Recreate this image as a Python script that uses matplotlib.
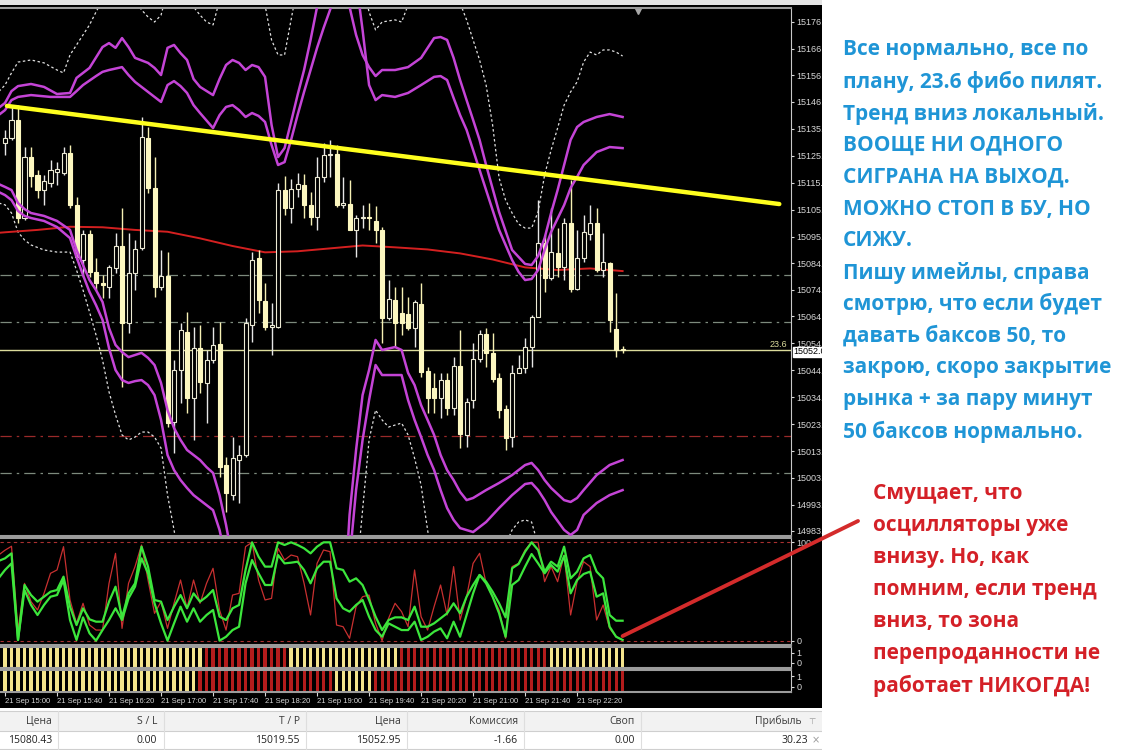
import numpy as np
import matplotlib.pyplot as plt
from matplotlib.patches import Rectangle
from matplotlib.lines import Line2D

# ---------------- data ----------------
# 5-minute candles, index 0 = 21 Sep 15:00
opens = [15130.5, 15132.2, 15139.1, 15101.9, 15125.2, 15118.3, 15112.6, 15115.1, 15119.6, 15119.2,
         15126.5, 15106.9, 15086.1, 15095.9, 15081.7, 15077.2, 15076.0, 15082.9, 15091.5, 15062.1,
         15081.0, 15090.5, 15132.2, 15113.2, 15076.0, 15080.2, 15024.8, 15044.4, 15058.9, 15033.7,
         15052.6, 15039.4, 15048.2, 15054.3, 15008.4, 14997.0, 15010.3, 15012.2, 15061.5, 15086.7,
         15070.7, 15060.8, 15060.8, 15112.6, 15105.7, 15113.1, 15114.5, 15106.9, 15102.5, 15117.4,
         15125.9, 15126.2, 15106.9, 15107.3, 15097.5, 15101.9, 15102.5, 15101.0, 15097.5, 15064.0,
         15070.9, 15065.9, 15065.6, 15060.2, 15069.3, 15044.0, 15037.5, 15033.7, 15040.6, 15029.9,
         15045.9, 15019.8, 15033.0, 15048.5, 15058.1, 15050.7, 15041.2, 15029.5, 15019.2, 15043.4,
         15045.0, 15053.2, 15064.6, 15092.4, 15079.1, 15088.9, 15083.6, 15100.0, 15075.0, 15086.7,
         15095.9, 15100.0, 15082.3, 15085.1, 15059.8, 15052.5]
highs = [15135.3, 15144.8, 15144.8, 15129.0, 15129.0, 15120.2, 15118.3, 15124.0, 15123.3, 15129.0,
         15129.7, 15110.1, 15097.5, 15097.5, 15086.7, 15080.4, 15084.2, 15096.2, 15105.7, 15096.2,
         15093.7, 15140.4, 15136.6, 15125.2, 15089.9, 15089.2, 15048.2, 15062.1, 15066.5, 15060.8,
         15061.5, 15052.0, 15060.8, 15062.7, 15011.6, 15019.2, 15016.0, 15064.0, 15089.2, 15089.9,
         15077.2, 15069.7, 15115.1, 15117.9, 15116.7, 15118.9, 15118.7, 15112.0, 15125.2, 15130.3,
         15131.6, 15129.7, 15117.7, 15116.4, 15103.1, 15106.9, 15107.6, 15106.5, 15098.7, 15078.5,
         15076.0, 15076.0, 15072.2, 15070.9, 15077.5, 15045.7, 15043.1, 15043.1, 15043.1, 15049.5,
         15059.6, 15033.7, 15054.5, 15059.6, 15060.2, 15058.3, 15043.1, 15031.1, 15046.3, 15050.1,
         15056.4, 15065.2, 15108.8, 15095.6, 15105.7, 15098.1, 15101.9, 15116.4, 15097.5, 15103.1,
         15106.9, 15105.7, 15096.4, 15085.5, 15073.5, 15053.5]
lows = [15125.9, 15131.6, 15100.0, 15101.2, 15113.9, 15109.5, 15106.9, 15113.9, 15114.5, 15118.3,
        15105.7, 15086.1, 15079.8, 15079.8, 15074.7, 15071.6, 15071.6, 15081.0, 15038.1, 15058.3,
        15074.7, 15089.9, 15111.3, 15072.2, 15074.7, 15022.9, 15012.8, 15031.8, 15028.0, 15017.9,
        15035.6, 15024.2, 15046.9, 15004.0, 14990.7, 14995.1, 14993.9, 15011.6, 15055.1, 15065.9,
        15059.6, 15050.1, 15060.2, 15103.1, 15100.0, 15110.1, 15101.9, 15099.3, 15097.5, 15115.8,
        15117.7, 15106.3, 15105.7, 15097.5, 15087.4, 15098.1, 15097.5, 15092.4, 15054.5, 15063.4,
        15053.2, 15057.7, 15059.6, 15053.2, 15041.9, 15028.0, 15028.0, 15026.1, 15027.4, 15027.4,
        15014.7, 15015.4, 15029.9, 15047.6, 15045.7, 15040.0, 15026.1, 15014.1, 15015.4, 15043.1,
        15043.1, 15045.7, 15064.6, 15074.1, 15078.5, 15079.8, 15078.5, 15074.1, 15074.7, 15085.5,
        15093.7, 15081.7, 15079.8, 15058.9, 15049.5, 15050.7]
closes = [15132.2, 15139.1, 15101.9, 15125.2, 15117.9, 15112.6, 15116.1, 15120.2, 15120.4, 15126.8,
          15106.9, 15087.4, 15095.9, 15081.7, 15077.2, 15076.6, 15083.3, 15091.5, 15062.1, 15081.0,
          15090.1, 15132.8, 15113.2, 15076.0, 15080.2, 15024.2, 15044.4, 15059.6, 15033.7, 15052.6,
          15040.0, 15048.2, 15053.9, 15007.8, 14997.7, 15010.9, 15012.2, 15062.1, 15086.1, 15070.9,
          15060.8, 15061.5, 15112.6, 15105.7, 15112.9, 15114.9, 15106.9, 15102.5, 15117.4, 15125.9,
          15126.1, 15106.9, 15107.6, 15097.5, 15101.9, 15102.5, 15102.0, 15097.5, 15064.0, 15071.2,
          15062.1, 15062.1, 15060.2, 15070.3, 15043.8, 15033.7, 15033.7, 15040.6, 15029.9, 15045.9,
          15020.2, 15032.4, 15048.5, 15058.1, 15050.7, 15040.9, 15029.3, 15018.5, 15043.4, 15045.0,
          15053.2, 15064.6, 15092.4, 15079.1, 15089.2, 15083.6, 15100.0, 15075.0, 15086.7, 15096.8,
          15100.2, 15082.3, 15085.5, 15063.4, 15052.0, 15052.0]

# red moving average
ma_idx = [-1, 0, 5, 10, 15, 20, 25, 30, 35, 40, 45, 50, 55, 60, 65, 70, 75, 80, 85, 90, 95]
ma_val = [15096.4, 15096.6, 15097.5, 15098.7, 15098.5, 15097.5, 15096.8, 15094.3, 15091.4, 15089.0,
          15089.4, 15090.5, 15091.6, 15090.9, 15090.1, 15088.6, 15086.3, 15083.3, 15082.3, 15082.9, 15081.9]

# magenta channel lines (upper pair, lower pair)
ua_idx = [-1, 0, 1, 2, 4, 6, 8, 10, 11, 13, 15, 16, 17, 18, 19, 20, 22, 23, 24, 25, 26, 27, 28, 29, 30,
          32, 33, 34, 35, 36, 37, 38, 39, 40, 41, 42, 43, 44, 45, 46, 47, 48, 49, 51, 52, 53, 54, 55, 56,
          57, 58, 60, 62, 64, 66, 67, 68, 69, 70, 71, 72, 73, 74, 76, 78, 80, 81, 82, 83, 84, 85, 86, 87,
          88, 89, 91, 93, 95]
ua_val = [15143.7, 15145.6, 15150.1, 15152.0, 15152.8, 15151.7, 15149.0, 15149.4, 15155.1, 15158.9,
          15166.8, 15168.3, 15166.5, 15170.2, 15166.8, 15162.7, 15160.8, 15158.9, 15156.2, 15166.5,
          15167.6, 15164.5, 15161.9, 15154.7, 15151.7, 15148.6, 15154.7, 15160.0, 15161.9, 15160.8,
          15158.1, 15160.0, 15159.2, 15155.5, 15137.3, 15125.1, 15128.5, 15138.4, 15148.6, 15158.1,
          15169.5, 15182.0, 15196.0, 15207.4, 15200.0, 15182.0, 15171.4, 15163.8, 15159.2, 15155.8,
          15158.1, 15158.1, 15159.2, 15162.7, 15170.2, 15170.6, 15169.5, 15162.7, 15154.3, 15146.7,
          15139.2, 15131.6, 15122.1, 15104.3, 15089.9, 15084.6, 15084.2, 15087.6, 15094.4, 15103.9,
          15112.6, 15122.1, 15131.6, 15136.5, 15138.4, 15140.3, 15141.4, 15140.3]
ub_idx = [-1, 0, 1, 2, 4, 7, 10, 11, 12, 14, 15, 16, 18, 19, 20, 22, 24, 25, 26, 27, 28, 29, 30, 32, 33,
          34, 35, 36, 37, 38, 39, 40, 41, 42, 43, 44, 45, 46, 47, 48, 49, 50, 51, 53, 54, 55, 56, 57, 58,
          60, 62, 64, 66, 67, 68, 69, 70, 71, 72, 74, 76, 78, 79, 80, 81, 82, 83, 84, 86, 87, 88, 89, 91,
          93, 95]
ub_val = [15141.0, 15142.9, 15146.7, 15147.9, 15148.6, 15147.9, 15147.9, 15150.1, 15152.4, 15155.8,
          15157.4, 15158.1, 15159.2, 15156.2, 15153.6, 15149.8, 15146.0, 15152.4, 15153.9, 15152.0,
          15149.4, 15144.8, 15141.8, 15136.1, 15141.0, 15144.1, 15144.8, 15142.9, 15140.3, 15141.8,
          15140.7, 15138.4, 15129.7, 15122.1, 15123.2, 15131.6, 15141.0, 15149.8, 15158.1, 15166.5,
          15174.0, 15180.9, 15188.4, 15205.0, 15192.2, 15173.3, 15152.4, 15146.7, 15148.6, 15147.9,
          15149.4, 15152.4, 15155.5, 15155.8, 15154.3, 15147.5, 15141.0, 15135.4, 15127.8, 15112.6,
          15097.5, 15086.1, 15081.6, 15078.5, 15078.9, 15082.3, 15089.9, 15096.7, 15106.9, 15113.4,
          15117.6, 15122.1, 15127.0, 15128.9, 15128.5]
la_idx = [-1, 0, 1, 2, 3, 4, 6, 8, 10, 11, 12, 13, 14, 15, 16, 17, 18, 19, 20, 21, 22, 23, 24, 25, 26,
          27, 28, 29, 30, 31, 32, 33, 34, 35, 36, 44, 52, 53, 54, 55, 56, 57, 58, 60, 61, 62, 63, 64, 65,
          66, 67, 68, 69, 70, 71, 72, 74, 76, 78, 80, 81, 82, 83, 84, 86, 87, 88, 89, 91, 93, 95]
la_val = [15114.9, 15113.8, 15112.6, 15107.7, 15105.4, 15103.9, 15102.8, 15100.9, 15097.5, 15089.9,
          15084.2, 15078.5, 15074.7, 15070.2, 15060.3, 15053.9, 15051.2, 15049.3, 15050.1, 15050.9,
          15049.0, 15046.3, 15039.5, 15029.2, 15022.4, 15017.9, 15014.1, 15012.2, 15010.3, 15007.6,
          15005.4, 14997.0, 14985.7, 14972.4, 14957.2, 14930.0, 14949.7, 14989.5, 15014.1, 15034.9,
          15044.4, 15055.8, 15052.0, 15053.1, 15052.0, 15043.3, 15038.7, 15031.1, 15025.5, 15019.8,
          15012.2, 15006.5, 15002.7, 14998.2, 14995.1, 14995.9, 14998.9, 15001.6, 15004.6, 15008.4,
          15009.2, 15006.5, 15002.7, 14999.7, 14995.1, 14994.4, 14995.9, 14998.9, 15004.6, 15008.4,
          15010.3]
lb_idx = [-1, 0, 1, 2, 3, 4, 6, 8, 10, 11, 12, 13, 14, 15, 16, 17, 18, 19, 20, 21, 22, 23, 24, 25, 26,
          27, 28, 29, 30, 31, 32, 33, 34, 35, 44, 52, 53, 54, 55, 56, 57, 58, 60, 61, 62, 63, 64, 65, 66,
          67, 68, 69, 70, 72, 74, 76, 78, 80, 81, 82, 83, 84, 86, 87, 88, 89, 91, 93, 95]
lb_val = [15111.9, 15110.7, 15108.8, 15104.7, 15102.8, 15102.0, 15100.9, 15098.6, 15094.4, 15087.2,
          15080.4, 15074.0, 15069.0, 15063.4, 15052.7, 15044.4, 15040.6, 15039.5, 15040.2, 15040.6,
          15038.7, 15034.9, 15025.5, 15012.2, 15006.5, 15002.7, 14999.7, 14997.0, 14995.1, 14993.2,
          14991.3, 14983.8, 14972.4, 14957.2, 14925.0, 14938.3, 14972.4, 14998.9, 15017.9, 15033.0,
          15046.3, 15042.5, 15042.5, 15042.5, 15033.0, 15025.5, 15019.0, 15012.2, 15006.5, 14998.9,
          14992.1, 14987.6, 14984.5, 14983.0, 14986.8, 14992.1, 14997.0, 15001.2, 15001.6, 14998.9,
          14995.1, 14990.6, 14983.8, 14981.9, 14983.8, 14989.5, 14994.0, 14997.0, 14998.9]

# white dotted outer envelope
du_idx = [-1, 0, 1, 2, 4, 6, 8, 9, 10, 11, 12, 13, 14, 15, 16, 19, 20, 21, 22, 23, 24, 25, 28, 29, 30,
          31, 32, 33, 34, 39, 40, 41, 42, 43, 44, 45, 55, 56, 57, 58, 60, 61, 62, 63, 69, 70, 71, 72, 73,
          74, 75, 76, 77, 78, 79, 80, 81, 82, 83, 84, 85, 86, 87, 88, 89, 90, 91, 92, 93, 94, 95]
du_val = [15149.8, 15152.4, 15157.0, 15161.1, 15161.9, 15160.8, 15158.1, 15157.0, 15163.8, 15167.6,
          15171.4, 15175.2, 15180.1, 15184.6, 15190.3, 15190.3, 15184.6, 15180.9, 15178.2, 15176.3,
          15178.9, 15188.4, 15188.4, 15182.0, 15178.9, 15176.3, 15175.2, 15184.6, 15190.3, 15190.3,
          15182.7, 15169.5, 15163.8, 15163.8, 15177.1, 15190.3, 15190.3, 15180.1, 15173.3, 15176.3,
          15177.1, 15176.3, 15182.7, 15190.3, 15190.3, 15183.5, 15177.1, 15169.5, 15161.9, 15152.4,
          15137.3, 15117.2, 15108.8, 15103.9, 15099.7, 15098.2, 15098.2, 15104.3, 15118.3, 15127.8,
          15136.1, 15144.8, 15149.8, 15153.6, 15161.1, 15164.9, 15163.8, 15165.7, 15165.7, 15164.9,
          15163.4]
dl_idx = [-1, 0, 1, 2, 3, 4, 6, 8, 10, 11, 12, 13, 14, 15, 16, 17, 18, 19, 20, 21, 22, 23, 24, 25, 26,
          27, 28, 54, 55, 56, 57, 58, 59, 61, 62, 63, 64, 65, 66, 67, 76, 77, 78, 79, 80, 81, 82, 83, 84, 95]
dl_val = [15107.7, 15107.0, 15103.9, 15096.7, 15093.7, 15091.8, 15089.9, 15089.1, 15089.1, 15082.3,
          15074.7, 15066.4, 15057.7, 15048.2, 15036.1, 15027.4, 15019.8, 15017.9, 15019.0, 15020.9,
          15020.9, 15019.0, 15014.8, 14997.0, 14983.8, 14968.6, 14955.0, 14964.8, 14991.3, 15017.9,
          15029.2, 15025.5, 15022.8, 15024.3, 15019.8, 15011.0, 15000.8, 14983.8, 14968.6, 14960.0,
          14960.0, 14978.1, 14983.8, 14986.8, 14987.6, 14986.8, 14978.1, 14968.6, 14960.0, 14940.0]

# drawn trend line (candle index, price)
trend_x = [0.3, 119.1]
trend_y = [15144.5, 15107.3]

fib_236 = 15052.0
order_open = 15080.43
take_profit = 15019.55
grey_levels = [15062.6, 15005.4]
last_price = 15052.0

price_ticks = [15176.3, 15166.1, 15156.2, 15146.0, 15135.8, 15125.6, 15115.4, 15105.2, 15095.0, 15084.8,
               15074.9, 15064.7, 15054.5, 15044.3, 15034.1, 15023.9, 15013.7, 15003.5, 14993.3, 14983.4]
time_pos = [0, 8, 16, 24, 32, 40, 48, 56, 64, 72, 80, 88]
time_labels = ['21 Sep 15:00', '21 Sep 15:40', '21 Sep 16:20', '21 Sep 17:00', '21 Sep 17:40',
               '21 Sep 18:20', '21 Sep 19:00', '21 Sep 19:40', '21 Sep 20:20', '21 Sep 21:00',
               '21 Sep 21:40', '21 Sep 22:20']

# oscillator window, index -1 .. 95
osc_main = [81, 83.7, 88.8, 0.7, 56.6, 46.4, 39.7, 44.7, 49.8, 51.5, 65.1,
            34.6, 15.9, 32.9, 21.7, 19.3, 19.3, 39.7, 54.9, 23.7, 48.1,
            58.3, 95.6, 75.3, 41.4, 39.7, 21, 34.6, 46.4, 32.9, 48.1,
            39.7, 44.7, 51.5, 24.4, 21, 32.9, 36.3, 71.9, 100, 85.4,
            75.3, 75.3, 100, 97.3, 100, 97.3, 93.9, 88.8, 95.6, 100,
            100, 73.6, 71.9, 60, 63.4, 56.6, 41.4, 24.4, 10.8, 21,
            23.7, 23.7, 21, 34.6, 14.2, 14.2, 17.6, 22.7, 27.8, 38,
            27.8, 44.7, 56.6, 66.8, 60, 49.8, 38, 23.7, 73.6, 78,
            90.5, 100, 92.2, 70.2, 80.3, 75.3, 95.6, 63.4, 70.2, 83.7,
            87.1, 70.2, 63.4, 26.1, 20.3, 20.3]
osc_signal = [63.4, 71.9, 78.6, 0.7, 51.5, 36.3, 26.1, 36.3, 44.7, 46.4, 61.7,
              21, 0.7, 23.7, 7.5, 0, 10.8, 21, 32.9, 21, 43,
              54.9, 83.7, 68.5, 38, 17.6, 0, 17.6, 34.6, 19.3, 32.9,
              19.3, 26.1, 31.2, 0, 4, 10.8, 14.2, 58.3, 82, 68.5,
              56.6, 56.6, 87.1, 78.6, 79.3, 80.3, 71.9, 58.3, 73.6, 80.3,
              80.3, 43, 32.9, 29.5, 36.3, 41.4, 24.4, 10.8, 4, 17.6,
              14.2, 10.8, 10.8, 19.3, 0.7, 4, 9.2, 12.5, 2.4, 19.3,
              4, 26.1, 48.1, 66.8, 58.3, 44.7, 27.8, 4, 56.6, 61.7,
              75.3, 88.1, 78.6, 68.5, 77, 70.2, 86.1, 48.1, 61.7, 67.8,
              70.2, 44.7, 48.1, 14.2, 4, 0.7]
osc_fast = [87, 92, 96, 10.8, 58.3, 39.7, 31.2, 48.1, 68.5, 71.9, 95.6,
            41.4, 17.6, 38, 15.9, 10.8, 10.8, 58.3, 88.8, 12.5, 58.3,
            75.3, 97.3, 61.7, 27.8, 39.7, 12.5, 38, 61.7, 32.9, 61.7,
            38, 58.3, 73.6, 31.2, 10.8, 46.4, 48.1, 95.6, 100, 61.7,
            41.4, 43, 93.9, 82, 87.1, 85.4, 58.3, 26.1, 78.6, 92.2,
            90.5, 15.9, 14.2, 2.4, 34.6, 44.7, 46.4, 17.6, 0, 22.7,
            38, 29.5, 14.2, 71.9, 24.4, 10.8, 34.6, 56.6, 26.1, 75.3,
            21, 44.7, 78.6, 88.8, 58.3, 44.7, 31.2, 2.4, 75.3, 78.6,
            92.2, 100, 100, 60, 75.3, 60, 87.1, 26.1, 60, 80.3,
            75.3, 21, 36.3, 12.5, 4, 0.7]

# signal strips: candle index where a colour run starts
strip1_start = [0, 31, 44, 61, 84]
strip1_state = [1, 0, 1, 0, 1]
strip2_start = [0, 30, 51, 57]
strip2_state = [1, 0, 1, 0]

blue_lines = ['Все нормально, все по', 'плану, 23.6 фибо пилят.', 'Тренд вниз локальный.',
              'ВООЩЕ НИ ОДНОГО', 'СИГРАНА НА ВЫХОД.', 'МОЖНО СТОП В БУ, НО', 'СИЖУ.',
              'Пишу имейлы, справа', 'смотрю, что если будет', 'давать баксов 50, то',
              'закрою, скоро закрытие', 'рынка + за пару минут', '50 баксов нормально.']
red_lines = ['Смущает, что', 'осцилляторы уже', 'внизу. Но, как', 'помним, если тренд',
             'вниз, то зона', 'перепроданности не', 'работает НИКОГДА!']

col_headers = ['Цена', 'S / L', 'T / P', 'Цена', 'Комиссия', 'Своп', 'Прибыль']
row_values = ['15080.43', '0.00', '15019.55', '15052.95', '-1.66', '0.00', '30.23']

# ---------------- layout ----------------
W, H = 1123, 750
fig = plt.figure(figsize=(W / 100, H / 100), dpi=100)
fig.patch.set_facecolor('white')


def box(x0, y0, x1, y1):
    return [x0 / W, 1 - y1 / H, (x1 - x0) / W, (y1 - y0) / H]


def fy(y):
    return 1 - y / H


TERM_R = 822      # right edge of the terminal screenshot
PLOT_R = 791      # right edge of the plotting area
XLIM = (-0.77, 120.9)
AXIS_TXT = '#d8d8d8'
FRAME = '#9c9c9c'
MONO = 'Liberation Sans'

fig.add_artist(Rectangle((0, fy(708)), TERM_R / W, (708 - 5) / H, transform=fig.transFigure,
                         facecolor='black', edgecolor='none', zorder=-5))
fig.add_artist(Rectangle((0, fy(5)), TERM_R / W, 5 / H, transform=fig.transFigure,
                         facecolor='#e4e4e4', edgecolor='none', zorder=-5))


def style_panel(a):
    a.set_facecolor('black')
    a.set_xlim(*XLIM)
    a.spines['left'].set_visible(False)
    a.spines['right'].set_color('#c8c8c8')
    a.spines['top'].set_color(FRAME)
    a.spines['bottom'].set_color(FRAME)
    a.spines['top'].set_linewidth(1.5)
    a.spines['bottom'].set_linewidth(1.5)
    a.yaxis.tick_right()
    a.tick_params(axis='y', colors=AXIS_TXT, labelsize=6.5, length=2.5, width=0.8, pad=1.5)
    a.tick_params(axis='x', bottom=False, labelbottom=False)


# ---- main price panel ----
ax = fig.add_axes(box(0, 8, PLOT_R, 536))
style_panel(ax)
ax.set_ylim(14981.5, 15181.6)
ax.set_yticks(price_ticks)
ax.set_yticklabels([f'{v:.1f}' for v in price_ticks], fontfamily=MONO)

ax.axhline(order_open, color='#7d8a7d', lw=0.9, ls=(0, (9, 4, 2, 4)), zorder=1)
for lv in grey_levels:
    ax.axhline(lv, color='#7d8a7d', lw=0.9, ls=(0, (9, 4, 2, 4)), zorder=1)
ax.axhline(take_profit, color='#9a2a2a', lw=0.9, ls=(0, (9, 4, 2, 4)), zorder=1)
ax.axhline(fib_236, color='#dcdc9c', lw=1.0, zorder=1)

ax.plot(du_idx, du_val, color='#e0e0e0', lw=0.9, ls=(0, (2, 2)), zorder=2)
ax.plot(dl_idx, dl_val, color='#e0e0e0', lw=0.9, ls=(0, (2, 2)), zorder=2)
ax.plot(ma_idx, ma_val, color='#d42020', lw=1.4, zorder=2)

idx = np.arange(len(opens))
o, h, l, c = (np.array(v) for v in (opens, highs, lows, closes))
bull = c >= o
wick_col = ['#e6e6e6' if b else '#f6f0b4' for b in bull]
face_col = ['black' if b else '#fcf7c0' for b in bull]
edge_col = ['#ecead4' if b else '#fcf7c0' for b in bull]
ax.vlines(idx, l, h, colors=wick_col, lw=1.0, zorder=3)
ax.bar(idx, np.maximum(np.abs(c - o), 0.35), bottom=np.minimum(o, c), width=0.62,
       color=face_col, edgecolor=edge_col, linewidth=0.8, zorder=4)

for xs, ys in ((ua_idx, ua_val), (ub_idx, ub_val), (la_idx, la_val), (lb_idx, lb_val)):
    ax.plot(xs, ys, color='#c444d6', lw=1.8, zorder=5)

ax.plot(trend_x, trend_y, color='#ffff1e', lw=3.2, solid_capstyle='round', zorder=6)

yt = ax.get_yaxis_transform()
ax.text(0.995, fib_236 + 0.4, '23.6', transform=yt, ha='right', va='bottom', color='#dcdc9c',
        fontsize=6.5, fontfamily=MONO)
ax.text(1.003, last_price - 0.6, f'{last_price:.1f}', transform=yt, ha='left', va='center',
        color='black', fontsize=6.5, fontfamily=MONO, clip_on=False, zorder=10,
        bbox=dict(facecolor='white', edgecolor='white', pad=0.3))
ax.plot([0.8066], [0.994], marker='v', color='#a8a8a8', ms=5, transform=ax.transAxes, clip_on=False)

# ---- oscillator panel ----
ax_o = fig.add_axes(box(0, 538, PLOT_R, 645))
style_panel(ax_o)
ax_o.set_ylim(-4.4, 104.4)
osc_idx = np.arange(-1, len(osc_main) - 1)
for lv in (0, 100):
    ax_o.axhline(lv, color='#a83030', lw=0.8, ls=(0, (3, 3)))
ax_o.plot(osc_idx, osc_fast, color='#c83030', lw=0.9)
ax_o.plot(osc_idx, osc_main, color='#3ce63c', lw=1.6)
ax_o.plot(osc_idx, osc_signal, color='#3ce63c', lw=1.6)
ax_o.set_yticks([0, 100])
ax_o.set_yticklabels(['0', '100'], fontfamily=MONO)

# ---- signal strips ----
strip_cols = {1: '#f4e48c', 0: '#b41c1c'}
strips = [((647, 668), strip1_start, strip1_state), ((670, 692), strip2_start, strip2_state)]
for (y0, y1), starts, states in strips:
    a = fig.add_axes(box(0, y0, PLOT_R, y1))
    style_panel(a)
    a.set_ylim(0, 1)
    cols = [strip_cols[states[np.searchsorted(starts, i, side='right') - 1]] for i in idx]
    a.bar(idx, 0.88, bottom=0.06, width=0.48, color=cols)
    a.set_yticks([0.25, 0.72])
    a.set_yticklabels(['0', '1'], fontfamily=MONO)
    ax_last = a

ax_last.tick_params(axis='x', bottom=True, labelbottom=True, colors=AXIS_TXT, labelsize=5.5,
                    length=3, width=0.8, pad=1.5)
ax_last.set_xticks(time_pos)
ax_last.set_xticklabels(time_labels, ha='left', fontfamily=MONO)

# cover anything spilling past the terminal edge
fig.add_artist(Rectangle((TERM_R / W, 0), 1 - TERM_R / W, 1, transform=fig.transFigure,
                         facecolor='white', edgecolor='none', zorder=5))

# ---- comment text ----
for k, line in enumerate(blue_lines):
    fig.text(843 / W, fy(50 + 31.8 * k), line, color='#1f95d6', fontsize=15, fontweight='bold',
             fontfamily='Open Sans', ha='left', va='center', zorder=6)
for k, line in enumerate(red_lines):
    fig.text(873 / W, fy(493 + 32.2 * k), line, color='#d42027', fontsize=15, fontweight='bold',
             fontfamily='Open Sans', ha='left', va='center', zorder=6)

# pointer from the oscillators to the comment
p0 = fig.transFigure.inverted().transform(ax_o.transData.transform((osc_idx[-1], osc_signal[-1] + 4)))
fig.add_artist(Line2D([p0[0], 858 / W], [p0[1], fy(521)], color='#d42b2b', lw=2.8,
                      solid_capstyle='round', zorder=7))

# ---- order table ----
fig.add_artist(Rectangle((0, fy(731)), TERM_R / W, 20 / H, transform=fig.transFigure,
                         facecolor='#f2f2f2', edgecolor='none', zorder=1))
for yy in (711, 731, 749):
    fig.add_artist(Line2D([0, TERM_R / W], [fy(yy), fy(yy)], color='#cfcfcf', lw=0.8, zorder=2))
col_right = [52, 157, 300, 401, 518, 635, 802]
col_sep = [58, 164, 306, 407, 524, 641]
for xs in col_sep:
    fig.add_artist(Line2D([xs / W, xs / W], [fy(711), fy(749)], color='#dedede', lw=0.8, zorder=2))
for xr, head, val in zip(col_right, col_headers, row_values):
    fig.text(xr / W, fy(721.5), head, ha='right', va='center', fontsize=7.5, color='#3a3a3a',
             fontfamily='Open Sans', zorder=3)
    fig.text(xr / W + (6 / W if head == 'Прибыль' else 0), fy(740.5), val, ha='right', va='center',
             fontsize=7.5, color='#222222', fontfamily='Open Sans', zorder=3)
fig.text(812 / W, fy(721.5), '⊤', ha='center', va='center', fontsize=6, color='#9a9a9a', zorder=3)
fig.text(816 / W, fy(740.5), '×', ha='center', va='center', fontsize=7, color='#9a9a9a', zorder=3)

fig.savefig('out.png', dpi=100, facecolor='white')
